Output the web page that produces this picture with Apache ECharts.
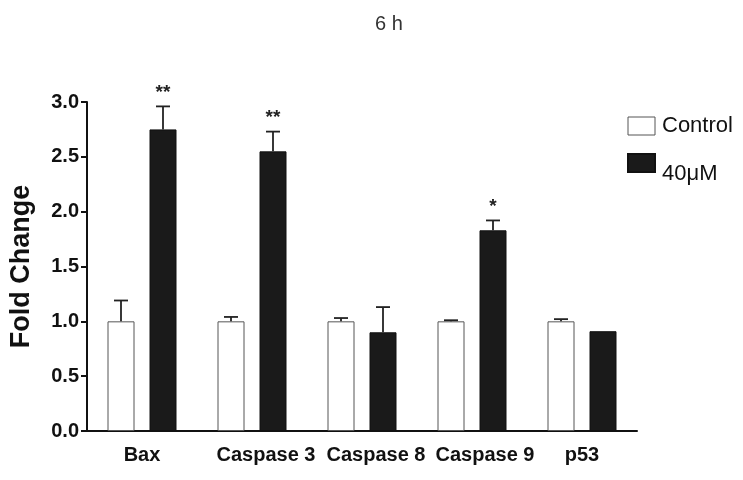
<!DOCTYPE html>
<html><head><meta charset="utf-8">
<script src="https://cdn.jsdelivr.net/npm/echarts@6/dist/echarts.min.js"></script>
<style>html,body{margin:0;padding:0;background:#fff}#c{width:743px;height:480px}</style>
</head><body><div id="c"></div>
<script>
const categories = ['Bax', 'Caspase 3', 'Caspase 8', 'Caspase 9', 'p53'];
const controlValues = [1.0, 1.0, 1.0, 1.0, 1.0];
const controlErrors = [0.19, 0.04, 0.03, 0.01, 0.02];
const treatedValues = [2.75, 2.55, 0.90, 1.83, 0.91];
const treatedErrors = [0.21, 0.18, 0.23, 0.09, 0.0];
const treatedStars = ['**', '**', '', '*', ''];
const yTicks = [0, 0.5, 1.0, 1.5, 2.0, 2.5, 3.0];
const labelShift = [0, 28, 28, 26, 0];

const FONT = '"Liberation Sans", Arial, Helvetica, sans-serif';
const BAR_W = 27, BAR_GAP = 15;

function errSeries(name, values, errors, stars, side) {
  return {
    type: 'custom', name: name + ' err', z: 5, silent: true,
    data: categories.map((c, i) => [i, values[i], errors[i]]),
    renderItem: function (params, api) {
      const idx = api.value(0);
      const v = api.value(1), e = api.value(2);
      const star = stars ? stars[idx] : '';
      const off = side * (BAR_W + BAR_GAP) / 2;
      const top = api.coord([idx, v]);
      const hi = api.coord([idx, v + e]);
      const x = top[0] + off;
      const children = [];
      if (e > 0) {
        children.push({ type: 'line', shape: { x1: x, y1: top[1], x2: x, y2: hi[1] }, style: { stroke: '#222', lineWidth: 1.8 } });
        children.push({ type: 'line', shape: { x1: x - 7, y1: hi[1], x2: x + 7, y2: hi[1] }, style: { stroke: '#222', lineWidth: 1.8 } });
      }
      if (star) {
        children.push({ type: 'text', style: { x: x, y: hi[1] - 4, text: star, textAlign: 'center', textVerticalAlign: 'bottom', font: 'bold 19px ' + FONT, fill: '#222' } });
      }
      return { type: 'group', children: children };
    }
  };
}

const chart = echarts.init(document.getElementById('c'));
chart.setOption({
  animation: false,
  backgroundColor: '#fff',
  title: { text: '6 h', left: 384, top: 9, textAlign: 'center', textStyle: { fontFamily: FONT, fontWeight: 'normal', fontSize: 20, color: '#333' } },
  legend: {
    orient: 'vertical', left: 622, top: 110, itemWidth: 27, itemHeight: 18, itemGap: 16,
    formatter: function (name) { return name === '40μM' ? '{low|' + name + '}' : name; },
    data: [
      { name: 'Control', icon: 'rect', itemStyle: { color: '#fff', borderColor: '#555', borderWidth: 1 } },
      { name: '40μM', icon: 'rect', itemStyle: { color: '#1a1a1a' } }
    ],
    textStyle: { fontFamily: FONT, fontSize: 22, color: '#111', padding: [0, 0, 0, 2],
      rich: { low: { fontFamily: FONT, fontSize: 22, color: '#111', padding: [22, 0, 0, 0] } } }
  },
  grid: { left: 86, right: 106, top: 102, bottom: 49 },
  xAxis: {
    type: 'category',
    data: categories.map((c, i) => ({ value: c, textStyle: { padding: [0, 0, 0, labelShift[i]] } })),
    axisLine: { lineStyle: { color: '#111', width: 2 } },
    axisTick: { alignWithLabel: true, length: 7, lineStyle: { color: '#111', width: 2 } },
    axisLabel: { interval: 0, fontFamily: FONT, fontWeight: 'bold', fontSize: 20, color: '#111', margin: 14 }
  },
  yAxis: {
    type: 'value', min: 0, max: 3, interval: 0.5,
    name: 'Fold Change', nameLocation: 'middle', nameGap: 52, nameRotate: 90,
    nameTextStyle: { fontFamily: FONT, fontWeight: 'bold', fontSize: 27, color: '#111' },
    splitLine: { show: false },
    axisLine: { show: true, lineStyle: { color: '#111', width: 2 } },
    axisTick: { show: true, length: 6, lineStyle: { color: '#111', width: 2 } },
    axisLabel: { fontFamily: FONT, fontWeight: 'bold', fontSize: 20, color: '#111', margin: 8,
      formatter: v => yTicks.includes(v) ? v.toFixed(1) : '' }
  },
  series: [
    { name: 'Control', type: 'bar', data: controlValues, barWidth: BAR_W, barGap: (BAR_GAP / BAR_W * 100) + '%',
      itemStyle: { color: '#fff', borderColor: '#555', borderWidth: 1 } },
    { name: '40μM', type: 'bar', data: treatedValues, barWidth: BAR_W,
      itemStyle: { color: '#1a1a1a', borderColor: '#111', borderWidth: 1 } },
    errSeries('Control', controlValues, controlErrors, null, -1),
    errSeries('40μM', treatedValues, treatedErrors, treatedStars, 1)
  ]
});
</script></body></html>
